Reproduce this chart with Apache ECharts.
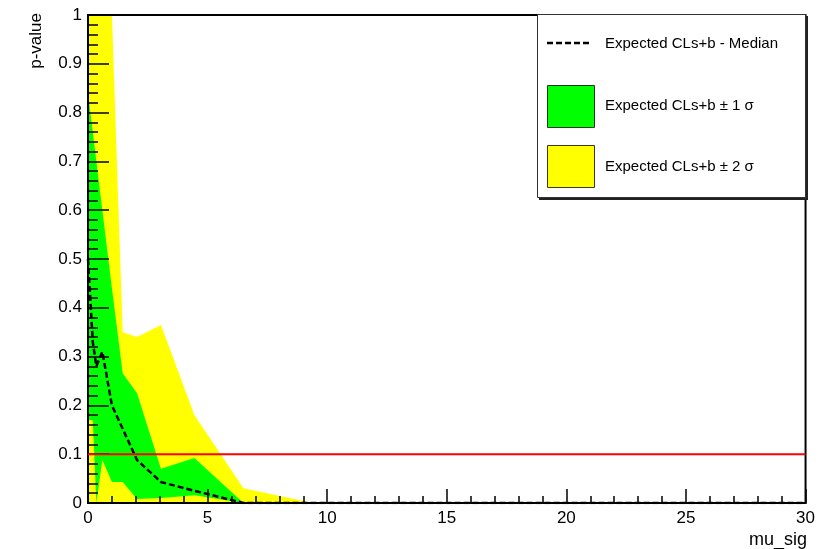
<!DOCTYPE html>
<html>
<head>
<meta charset="utf-8">
<script src="https://cdn.jsdelivr.net/npm/echarts@6/dist/echarts.min.js"></script>
<style>
  html, body { margin: 0; padding: 0; background: #fff; }
  #chart { width: 818px; height: 549px; }
</style>
</head>
<body>
<div id="chart"></div>
<script>
// Scan points of the signal strength
const muSig = [0, 0.2, 0.35, 0.6, 1.0, 1.45, 2.05, 3.05, 4.45, 6.5, 9.4, 30];
// Expected CLs+b quantiles at each scan point
const plus2Sigma  = [1.0, 1.0, 1.0, 1.0, 1.0, 0.35, 0.34, 0.365, 0.18, 0.03, 0.0, 0];
const plus1Sigma  = [0.84, 0.76, 0.70, 0.60, 0.44, 0.266, 0.225, 0.07, 0.092, 0, 0, 0];
const medianCLsb  = [0.5, 0.33, 0.28, 0.31, 0.2, 0.152, 0.088, 0.043, 0.025, 0, 0, 0];
const minus1Sigma = [0.17, 0.17, 0.0, 0.088, 0.043, 0.043, 0.008, 0.01, 0.016, 0, 0, 0];
const minus2Sigma = [0, 0, 0, 0, 0, 0, 0, 0, 0, 0, 0, 0];
// Reference line at the 90% CL threshold
const thresholdMu = [0, 30];
const thresholdP = 0.1;

const FONT = 'Liberation Sans, Arial, Helvetica, sans-serif';

// Filled band between a lower and an upper curve, drawn as one polygon
function bandSeries(name, lower, upper, color) {
  return {
    type: 'custom',
    name: name,
    clip: true,
    z: 2,
    silent: true,
    encode: { x: 0, y: [1, 2] },
    data: muSig.map((m, i) => [m, lower[i], upper[i]]),
    renderItem: function (params, api) {
      if (params.dataIndex !== 0) return;
      const pts = [];
      for (let i = 0; i < muSig.length; i++) pts.push(api.coord([muSig[i], upper[i]]));
      for (let i = muSig.length - 1; i >= 0; i--) pts.push(api.coord([muSig[i], lower[i]]));
      return { type: 'polygon', shape: { points: pts }, style: { fill: color, stroke: null } };
    }
  };
}

const chart = echarts.init(document.getElementById('chart'), null, { renderer: 'canvas' });

const option = {
  animation: false,
  backgroundColor: '#ffffff',
  grid: {
    left: 88, right: 12, top: 15, bottom: 46,
    show: true, borderColor: '#000', borderWidth: 2,
    backgroundColor: 'transparent', z: 5
  },
  xAxis: {
    type: 'value', min: 0, max: 30, interval: 5, z: 5,
    axisLine: { lineStyle: { color: '#000', width: 2 } },
    axisTick: { inside: true, length: 14, lineStyle: { color: '#000', width: 1.5 } },
    minorTick: { show: true, splitNumber: 5, length: 7, lineStyle: { color: '#000', width: 1.5 } },
    splitLine: { show: false },
    axisLabel: { color: '#000', fontSize: 17, fontFamily: FONT, margin: 7 }
  },
  yAxis: {
    type: 'value', min: 0, max: 1, interval: 0.1, z: 5,
    axisLine: { lineStyle: { color: '#000', width: 2 } },
    axisTick: { inside: true, length: 21, lineStyle: { color: '#000', width: 1.5 } },
    minorTick: { show: true, splitNumber: 5, length: 10, lineStyle: { color: '#000', width: 1.5 } },
    splitLine: { show: false },
    axisLabel: { color: '#000', fontSize: 17, fontFamily: FONT, margin: 6 }
  },
  series: [
    bandSeries('Expected CLs+b ± 2 σ', minus2Sigma, plus2Sigma, '#ffff00'),
    bandSeries('Expected CLs+b ± 1 σ', minus1Sigma, plus1Sigma, '#00ff00'),
    {
      type: 'line', name: 'Expected CLs+b - Median', z: 6,
      data: muSig.map((m, i) => [m, medianCLsb[i]]),
      symbol: 'none', clip: true, silent: true,
      lineStyle: { color: '#000', width: 2.5, type: [6, 3] }
    },
    {
      type: 'line', name: 'threshold', z: 7,
      data: thresholdMu.map(m => [m, thresholdP]),
      symbol: 'none', silent: true,
      lineStyle: { color: '#ff0000', width: 2 }
    }
  ],
  graphic: {
    elements: [
      // legend box with drop shadow
      { type: 'rect', z: 20, shape: { x: 539, y: 16, width: 269, height: 184 }, style: { fill: '#222' } },
      { type: 'rect', z: 21, shape: { x: 537.5, y: 14.5, width: 268, height: 183 }, style: { fill: '#fff', stroke: '#333', lineWidth: 1 } },
      { type: 'line', z: 22, shape: { x1: 547, y1: 43, x2: 592, y2: 43 }, style: { stroke: '#000', lineWidth: 2.5, lineDash: [6, 3] } },
      { type: 'text', z: 22, x: 605, y: 44, style: { text: 'Expected CLs+b - Median', font: '15px ' + FONT, fill: '#000', verticalAlign: 'middle' } },
      { type: 'rect', z: 22, shape: { x: 547.5, y: 85.5, width: 47, height: 42 }, style: { fill: '#00ff00', stroke: '#1a3a1a', lineWidth: 1 } },
      { type: 'text', z: 22, x: 605, y: 106, style: { text: 'Expected CLs+b ± 1 σ', font: '15px ' + FONT, fill: '#000', verticalAlign: 'middle' } },
      { type: 'rect', z: 22, shape: { x: 547.5, y: 145.5, width: 47, height: 42 }, style: { fill: '#ffff00', stroke: '#3a3a1a', lineWidth: 1 } },
      { type: 'text', z: 22, x: 605, y: 167, style: { text: 'Expected CLs+b ± 2 σ', font: '15px ' + FONT, fill: '#000', verticalAlign: 'middle' } },
      // axis titles
      { type: 'text', z: 22, x: 807, y: 531, style: { text: 'mu_sig', font: '18px ' + FONT, fill: '#000', align: 'right', verticalAlign: 'top' } },
      { type: 'text', z: 22, x: 36, y: 13, rotation: Math.PI / 2, style: { text: 'p-value', font: '17px ' + FONT, fill: '#000', align: 'right', verticalAlign: 'middle' } }
    ]
  }
};

chart.setOption(option);
</script>
</body>
</html>
